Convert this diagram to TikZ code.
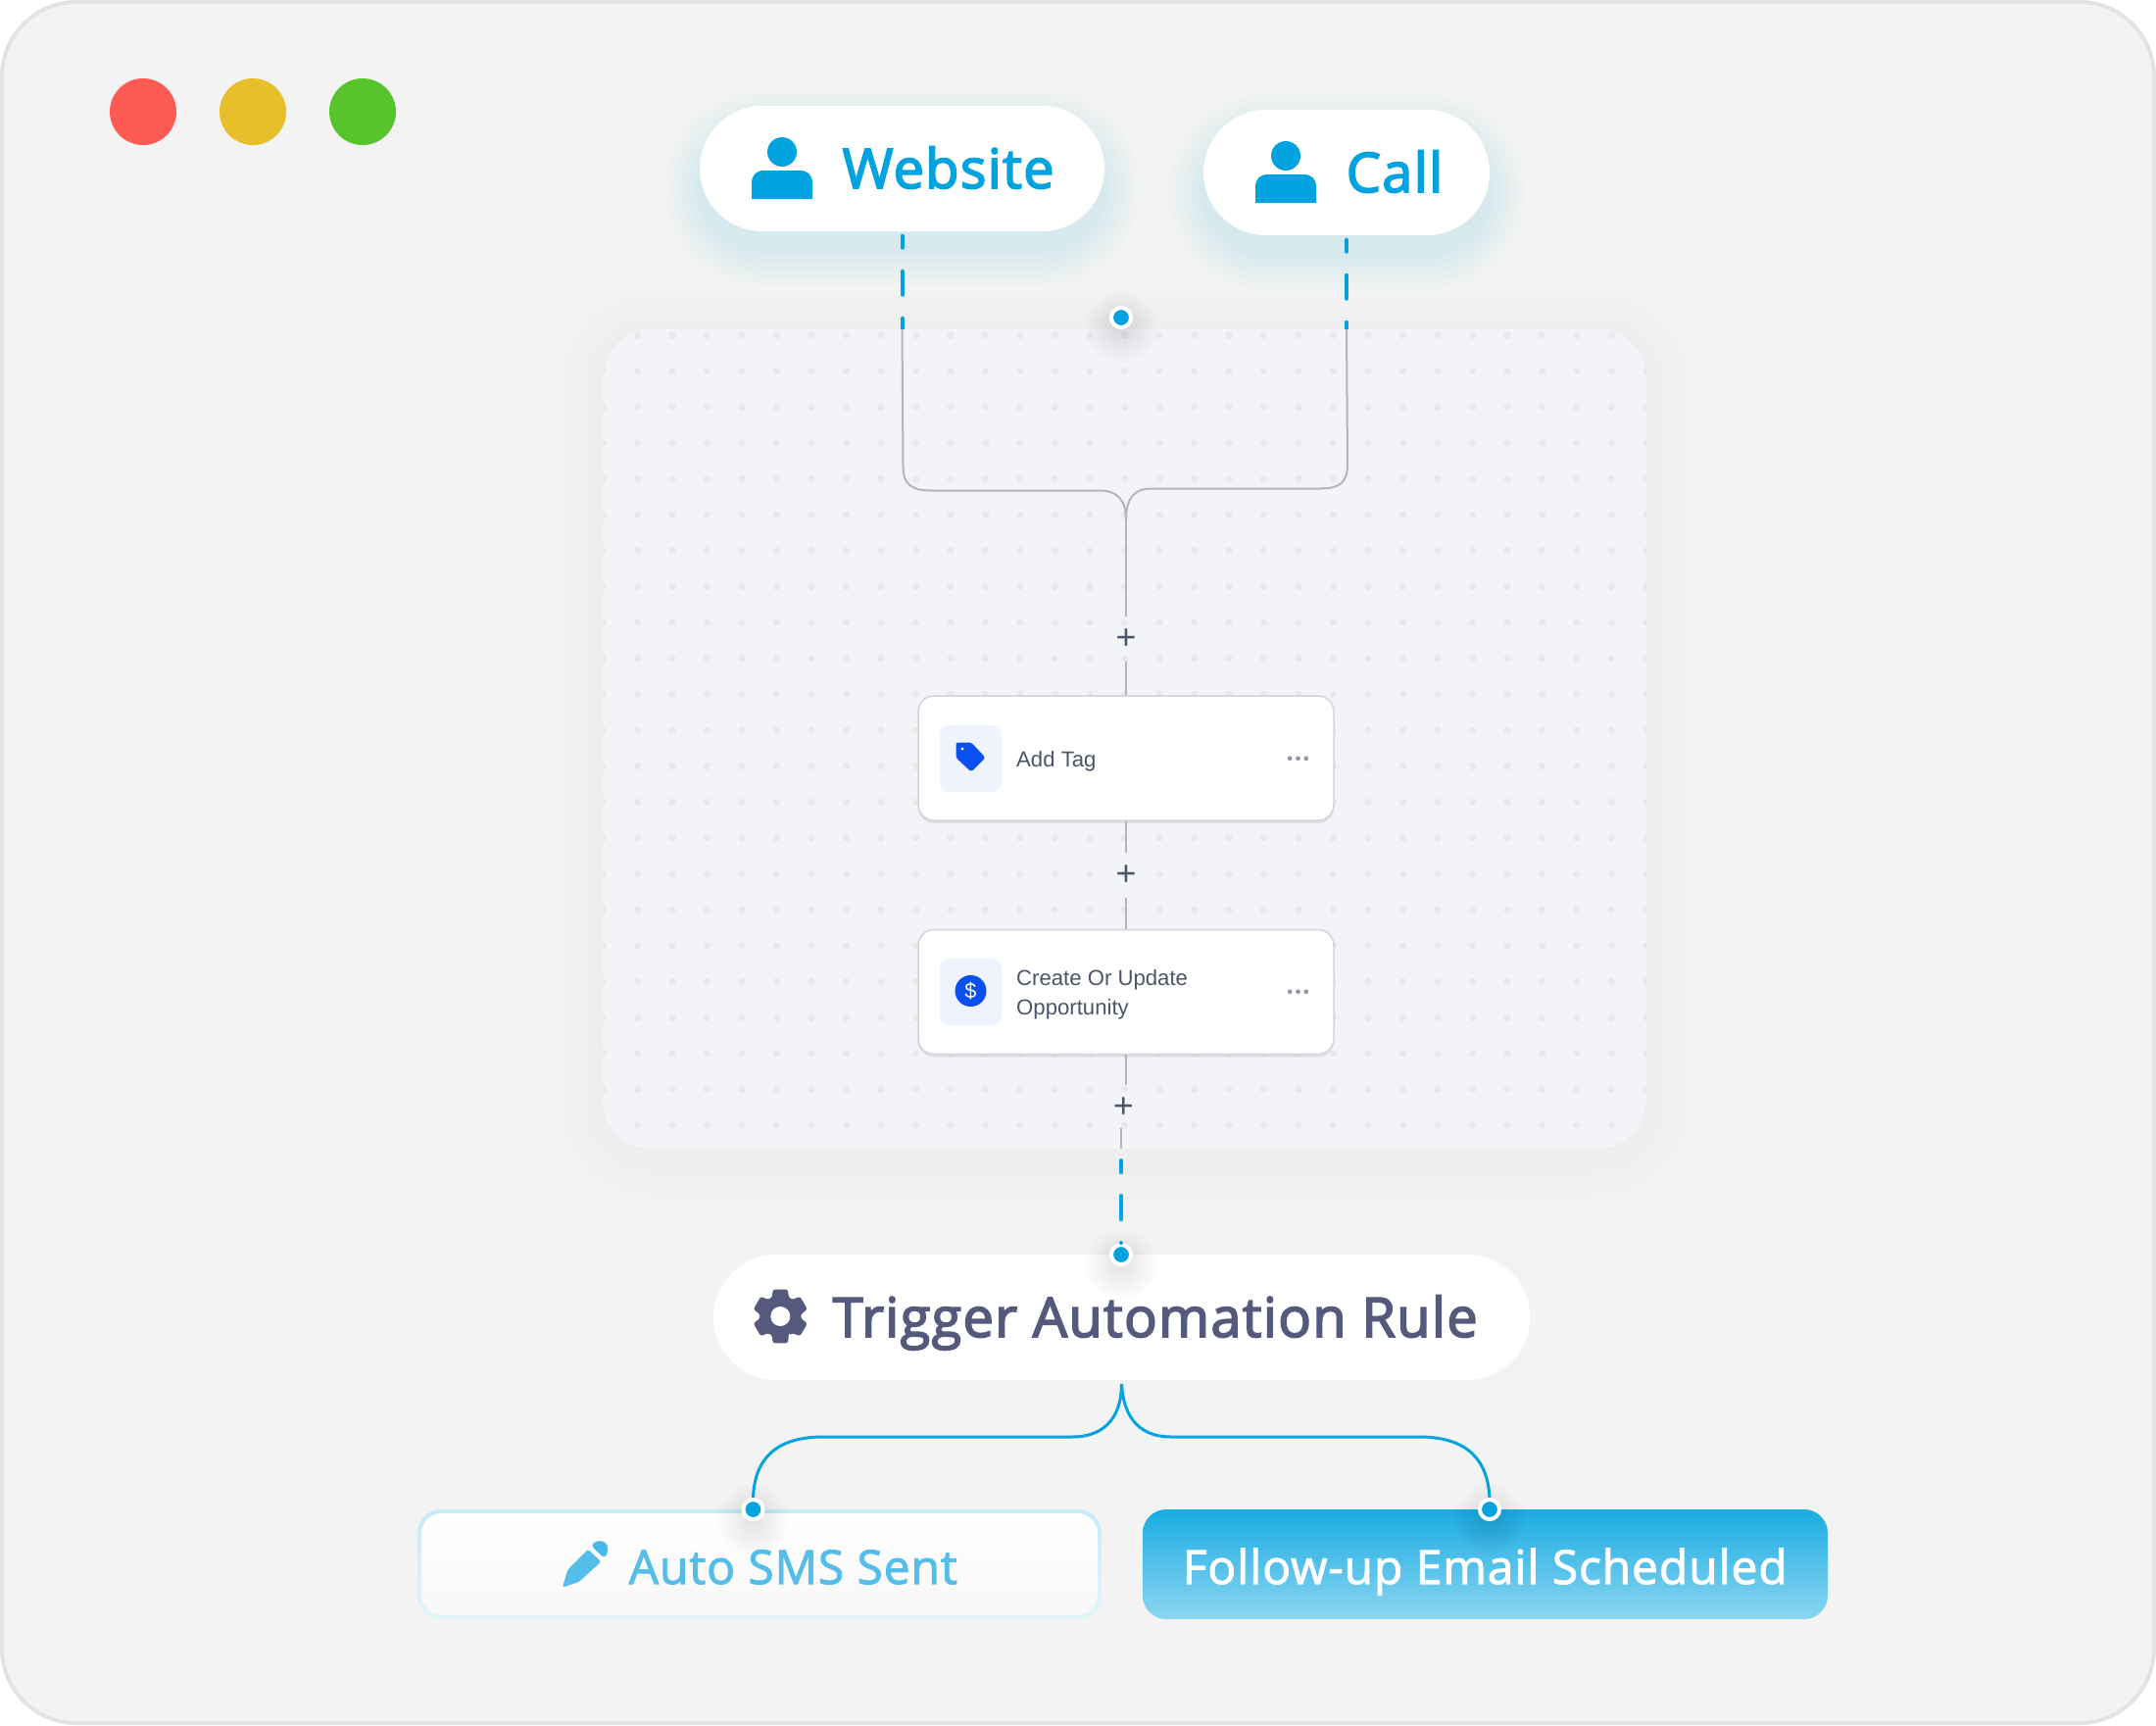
\documentclass[tikz,border=0pt]{standalone}
\usepackage{xcolor}
\usepackage{fontspec}
\usetikzlibrary{shadows}
\setmainfont{Open Sans}
\newfontfamily\headfont[FakeBold=3, LetterSpace=2.3]{Open Sans}
\newfontfamily\boxfont[FakeBold=2, LetterSpace=1.8]{Open Sans}
\newfontfamily\cardfont{Liberation Sans}

\newlength{\px}
\setlength{\px}{0.01cm}

\definecolor{pagebg}{HTML}{F3F3F3}
\definecolor{pageline}{HTML}{E3E3E3}
\definecolor{panelshade}{HTML}{EDEDED}
\definecolor{skyblue}{HTML}{00A3E0}
\definecolor{panelbg}{HTML}{F2F4F8}
\definecolor{griddot}{HTML}{E8E9EA}
\definecolor{wireline}{HTML}{B3B5BA}
\definecolor{cardline}{HTML}{D3D5DA}
\definecolor{cardtext}{HTML}{4A5568}
\definecolor{tagblue}{HTML}{0A50F0}
\definecolor{tiletint}{HTML}{EEF3FE}
\definecolor{slateink}{HTML}{55597C}
\definecolor{softblue}{HTML}{55BDE9}

\tikzset{
	pill/.style={fill=white, rounded corners=64\px, minimum height=128\px, inner sep=0},
	card/.style={draw=cardline, line width=1.5\px, fill=white, rounded corners=16\px,
		minimum width=424\px, minimum height=127\px, inner sep=0,
		drop shadow={shadow xshift=0pt, shadow yshift=-3\px, opacity=.08, fill=black}},
	tile/.style={fill=tiletint, rounded corners=10\px, minimum width=63\px, minimum height=68\px, inner sep=0},
	bluedot/.style={circle, fill=skyblue, draw=white, line width=4\px, minimum size=20\px, inner sep=0},
	wire/.style={draw=wireline, line width=2\px},
	bluewire/.style={draw=skyblue, line width=3\px},
	dashwire/.style={draw=skyblue, line width=4\px, line cap=round, dash pattern=on 12\px off 24\px on 24\px off 24\px},
	plusnode/.style={circle, minimum size=44\px, inner sep=0, text=cardtext, font=\cardfont\fontsize{10.2}{12}\selectfont},
	headtext/.style={anchor=base west, inner sep=0, font=\headfont\fontsize{15.9}{19}\selectfont},
	boxtext/.style={anchor=base west, inner sep=0, font=\boxfont\fontsize{13.65}{16}\selectfont},
	cardlabel/.style={anchor=base west, inner sep=0, text=cardtext, font=\cardfont\fontsize{6.3}{8}\selectfont},
	pics/person/.style={code={
		\fill[skyblue] (0,0) circle[radius=15\px];
		\fill[skyblue] (-31,48) -- (-31,32) .. controls (-31,23) and (-26,19) .. (-18,19) -- (18,19)
			.. controls (26,19) and (31,23) .. (31,32) -- (31,48) -- cycle;
	}},
	pics/dotglow/.style={code={
		\foreach \k in {36,32,...,8}{
			\fill[black, opacity=.01] (0,10) circle[radius=\k*\px];
		}
	}},
	pics/moredots/.style={code={
		\foreach \a in {-8.3,0,8.3}{
			\fill[cardtext!60!white] (\a,0) circle[radius=2.4\px];
		}
	}}
}

\begin{document}
\begin{tikzpicture}[x=0.01cm, y=-0.01cm]

\useasboundingbox (0,0) rectangle (2200,1760);
\fill[white] (0,0) rectangle (2200,1760);

% window
\draw[fill=pagebg, draw=pageline, line width=4\px, rounded corners=76\px] (2,2) rectangle (2198,1758);

\fill[color={rgb,255:red,255;green,91;blue,85}] (146,114) circle[radius=34\px];
\fill[color={rgb,255:red,230;green,191;blue,43}] (258,114) circle[radius=34\px];
\fill[color={rgb,255:red,88;green,196;blue,43}] (370,114) circle[radius=34\px];

% panel shadow
\foreach \k in {55,50,...,5}{
	\pgfmathsetmacro{\m}{100*\k/55}
	\fill[pagebg!\m!panelshade, rounded corners={(50+\k)*\px}] (615-\k,336-\k+6) rectangle (1680+\k,1172+\k+6);
}

% shadows of the two sources
\foreach \k in {36,32,...,0}{
	\fill[skyblue!50!white, opacity=.024, rounded corners={(64+\k)*\px}] (714-\k,108-\k+20) rectangle (1127+\k,236+\k+20);
	\fill[skyblue!50!white, opacity=.024, rounded corners={(64+\k)*\px}] (1228-\k,112-\k+20) rectangle (1520+\k,240+\k+20);
}

\node[pill, minimum width=413\px] (website) at (920.5,172) {};
\node[pill, minimum width=292\px] (call) at (1374,176) {};

\pic at (798,155) {person};
\pic at (1312,159) {person};
\node[headtext, text=skyblue] (websitetext) at (859,192) {Website};
\node[headtext, text=skyblue] (calltext) at (1373,196) {Call};

\coordinate (webin) at (920.5,336);
\coordinate (callin) at (1374,336);
\draw[dashwire] ([yshift=-4\px]website.south) -- (webin);
\draw[dashwire] ([yshift=-4\px]call.south) -- (callin);

% panel with its grid of dots
\fill[panelbg, rounded corners=50\px] (615,336) rectangle (1680,1172);
\begin{scope}
	\clip[rounded corners=50\px] (615,336) rectangle (1680,1172);
	\foreach \a in {0,...,30}{
		\foreach \b in {0,...,22}{
			\fill[griddot] (615+35.5*\a,342+36.64*\b) circle[radius=3.6\px];
		}
	}
\end{scope}

\pic at (1144,324) {dotglow};
\node[bluedot] (topdot) at (1144,324) {};

% wires coming in
\coordinate (merge) at (1149,530);
\draw[wire] (webin) -- (921.5,476) .. controls (921.5,494) and (930,500.5) .. (950,500.5) -- (1122,500.5)
	.. controls (1140,500.5) and (1149,510) .. (merge);
\draw[wire] (callin) -- (1375,474) .. controls (1375,492) and (1367,498.5) .. (1347,498.5) -- (1174,498.5)
	.. controls (1158,498.5) and (1149,508) .. (merge);

\node[plusnode] (plusa) at (1149,652) {+};
\node[card] (addtag) at (1149,773.5) {};
\node[plusnode] (plusb) at (1149,893) {+};
\node[card] (opportunity) at (1149,1012) {};
\node[plusnode] (plusc) at (1146.3,1130.5) {+};

\draw[wire] (merge) -- (plusa.north);
\draw[wire] (plusa.south) -- (addtag.north);
\draw[wire] (addtag.south) -- (plusb.north);
\draw[wire] (plusb.south) -- (opportunity.north);
\draw[wire] (opportunity.south) -- (1149,1107);

% add tag card
\node[tile] (tagtile) at (990.5,774) {};
\fill[tagblue, rounded corners=2.5\px] (975.5,757.5) -- (991,757.5) -- (1005.5,773) -- (991,787.5) -- (975.5,773) -- cycle;
\fill[white] (982,764) circle[radius=1.7\px];
\node[cardlabel] (tagtext) at (1036.5,782) {Add Tag};
\pic at (1324.5,773.7) {moredots};

% opportunity card
\node[tile] (dollartile) at (990.5,1012) {};
\node[circle, fill=tagblue, minimum size=32\px, inner sep=0, text=white, font=\cardfont\fontsize{6.2}{8}\selectfont] (dollar) at (990.5,1011) {\$};
\node[cardlabel] (opptextup) at (1036.5,1005.7) {Create Or Update};
\node[cardlabel] (opptextlow) at (1036.5,1035) {Opportunity};
\pic at (1324.5,1011.7) {moredots};

% trigger
\node[pill, minimum width=833\px] (trigger) at (1144.5,1344) {};
\pic at (1144,1280) {dotglow};
\node[bluedot] (triggerdot) at (1144,1280) {};
\coordinate (dashout) at (1144,1184);
\draw[wire] (1144,1151) -- (1144,1172);
\draw[dashwire] (dashout) -- (triggerdot.north);

\fill[slateink, rounded corners=2.5\px, shift={(796.3,1343)}] (66:21)
	\foreach \a in {90,150,...,390}{
		-- (\a-24:21) -- (\a-15.5:28.5) -- (\a+15.5:28.5) -- (\a+24:21)
	} -- cycle;
\fill[white] (796.3,1343) circle[radius=10\px];
\node[headtext, text=slateink] (triggertext) at (849,1364) {Trigger Automation Rule};

% result boxes
\node[top color=skyblue!22!white, bottom color=skyblue!11!white, rounded corners=24\px,
	minimum width=698\px, minimum height=112\px, inner sep=0] (smsframe) at (775,1596) {};
\node[top color=white, bottom color=white!97!black, rounded corners=21\px,
	minimum width=690\px, minimum height=104\px, inner sep=0] (smsbox) at (775,1596) {};
\node[top color=skyblue!90!white, bottom color=skyblue!45!white, rounded corners=24\px,
	minimum width=699\px, minimum height=112\px, inner sep=0] (emailbox) at (1515.5,1596) {};

\pic at (768.5,1540) {dotglow};
\pic at (1520,1540) {dotglow};
\node[bluedot] (smsdot) at (768.5,1540) {};
\node[bluedot] (emaildot) at (1520,1540) {};

\coordinate (triggerout) at (1144.5,1412);
\draw[bluewire] (triggerout) .. controls (1144.5,1440) and (1132,1466) .. (1094,1466) -- (840,1466)
	.. controls (790,1466) and (770,1490) .. (smsdot.north);
\draw[bluewire] (triggerout) .. controls (1146,1440) and (1158,1466) .. (1195,1466) -- (1448,1466)
	.. controls (1498,1466) and (1518,1490) .. (emaildot.north);

\fill[softblue, rounded corners=1.5\px] (600,1580.7) -- (613.3,1593.3) -- (590.7,1614) -- (574,1619.5) -- (579.3,1601.7) -- cycle;
\fill[softblue!85!skyblue, rounded corners=4\px] (603,1577) -- (608,1572) -- (618,1572.5) -- (621,1582) -- (617,1590) -- cycle;
\node[boxtext, text=softblue] (smstext) at (641,1616) {Auto SMS Sent};
\node[boxtext, text=white] (emailtext) at (1206,1616) {Follow-up Email Scheduled};

\end{tikzpicture}
\end{document}
